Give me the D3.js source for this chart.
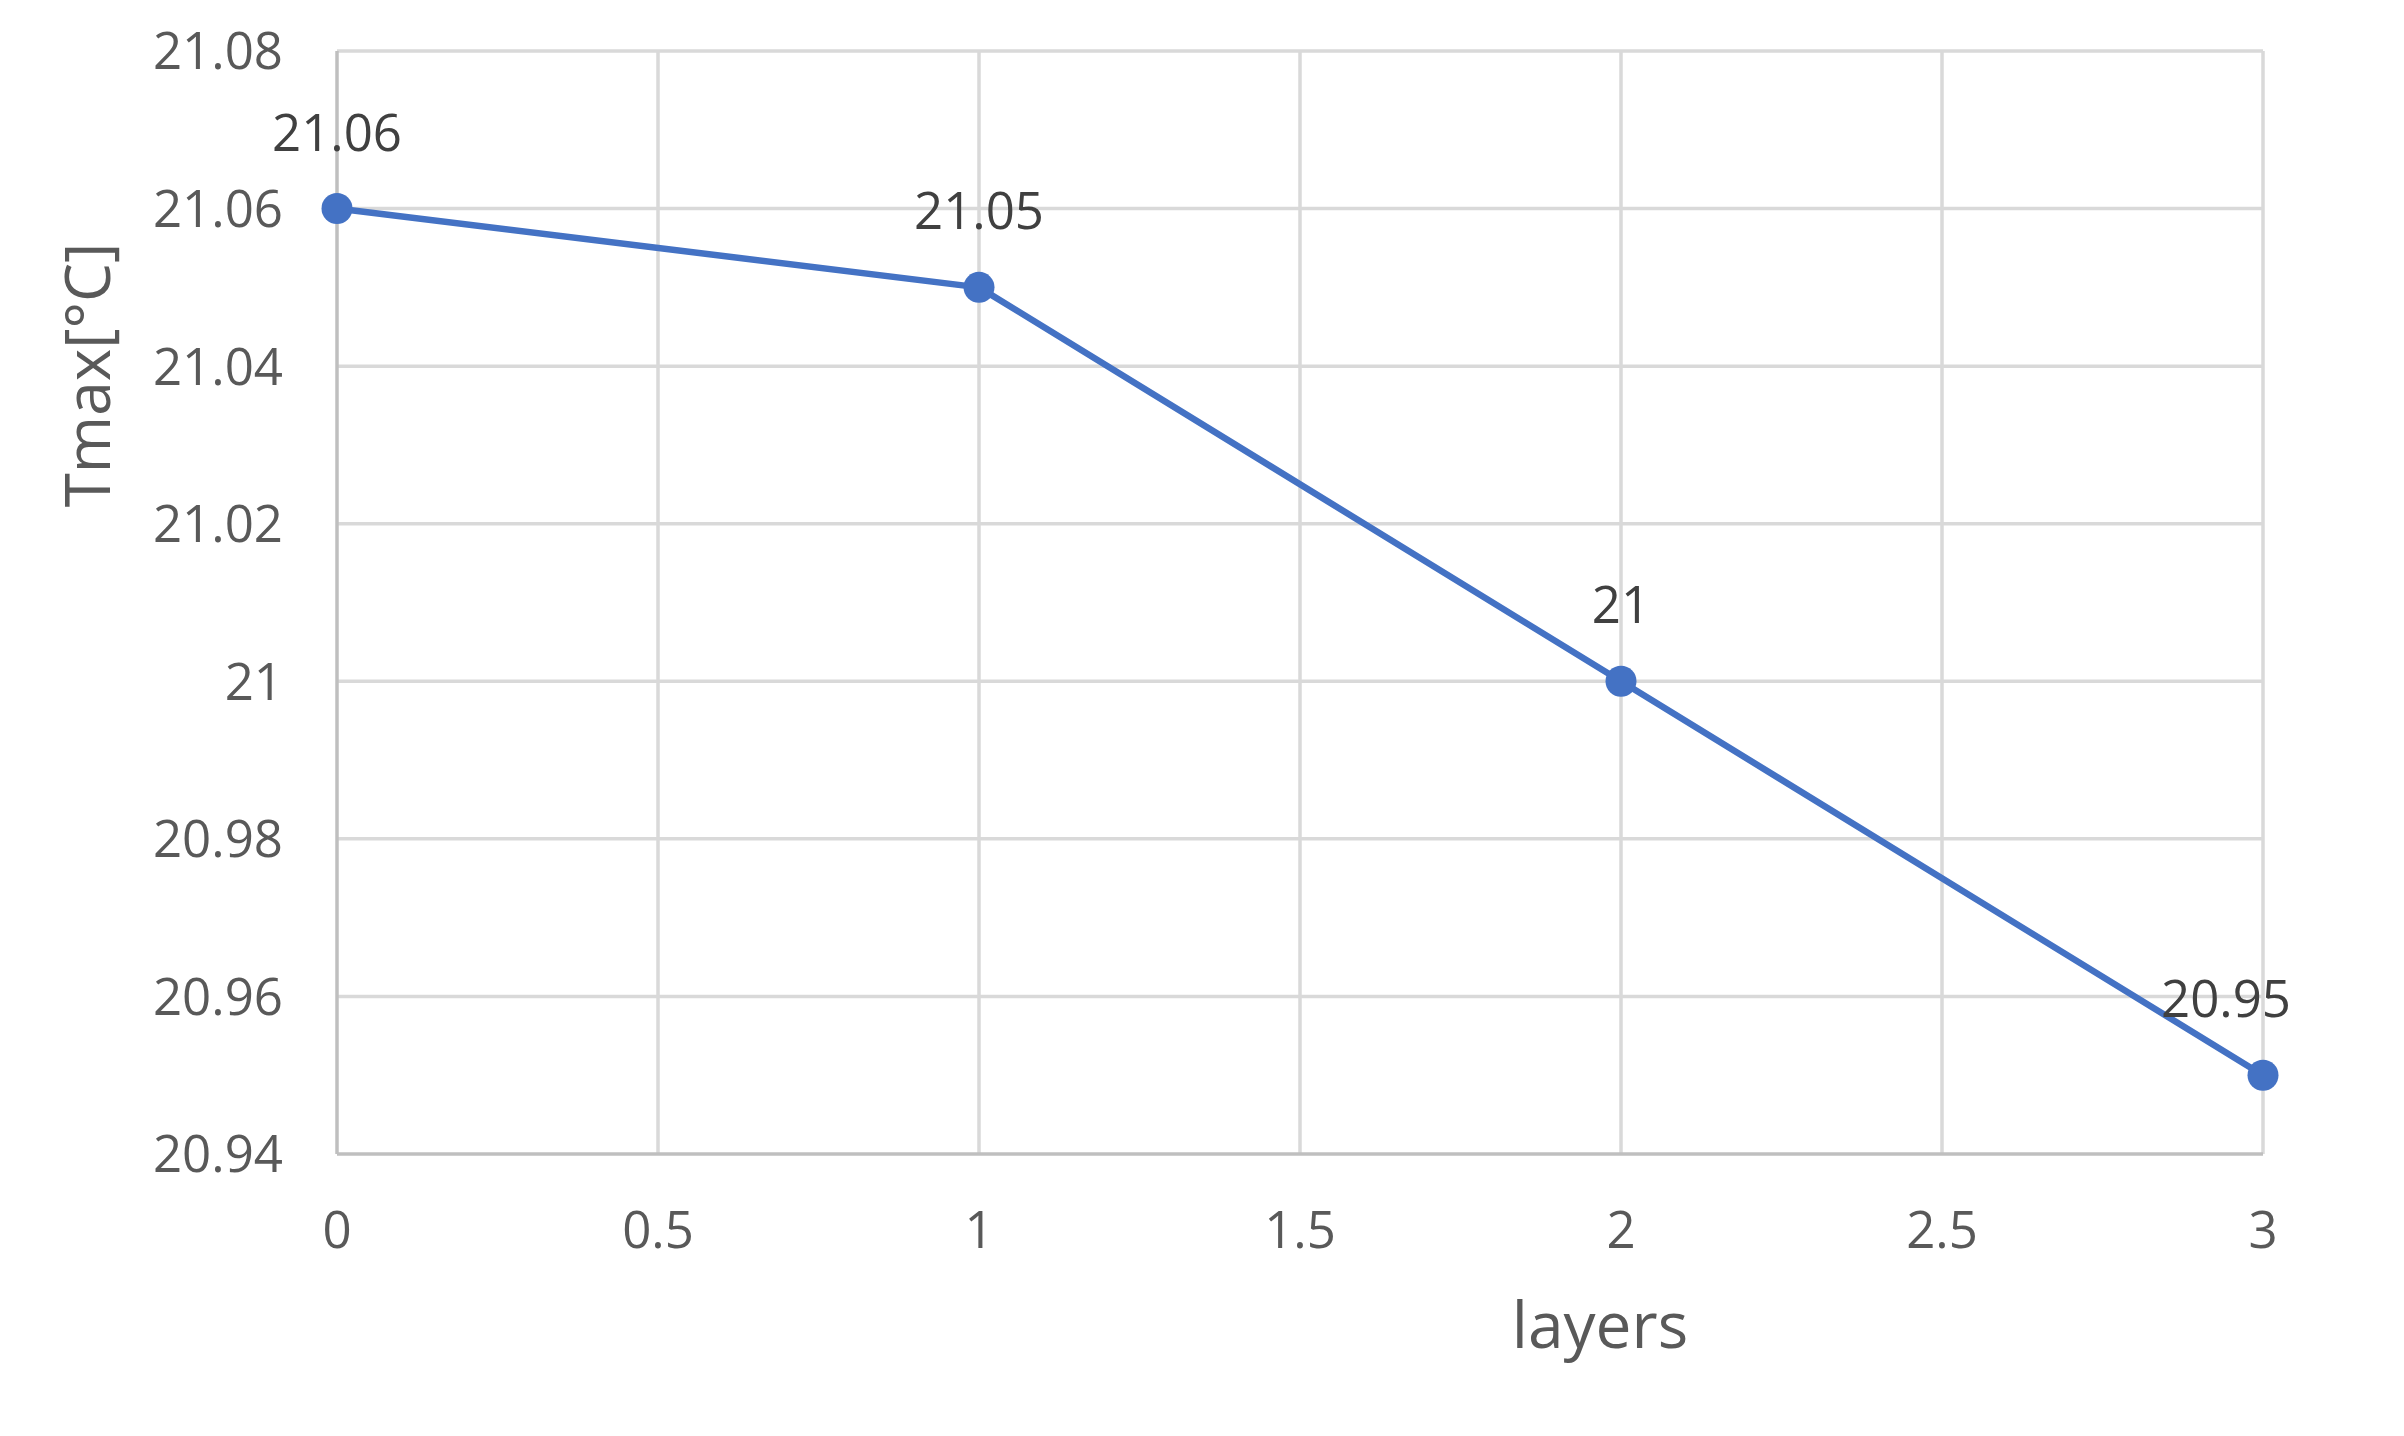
<!DOCTYPE html>
<html>
<head>
<meta charset="utf-8">
<script src="https://cdn.jsdelivr.net/npm/d3@7"></script>
<style>
  html, body { margin: 0; padding: 0; background: #ffffff; }
  svg { display: block; }
  text { font-family: "Open Sans", "Noto Sans", sans-serif; fill: #595959; }
</style>
</head>
<body>
<script>
// Data
const layers = [0, 1, 2, 3];
const tmax = [21.06, 21.05, 21.00, 20.95];
const dataLabels = ["21.06", "21.05", "21", "20.95"];
const xTicks = [0, 0.5, 1, 1.5, 2, 2.5, 3];
const yTicks = [20.94, 20.96, 20.98, 21.00, 21.02, 21.04, 21.06, 21.08];
const xTitle = "layers";
const yTitle = "Tmax[°C]";

const W = 2404, H = 1436;
const svg = d3.select("body").append("svg").attr("width", W).attr("height", H);

const x = d3.scaleLinear().domain([0, 3]).range([337, 2263]);
const y = d3.scaleLinear().domain([20.94, 21.08]).range([1154, 51]);

// vertical gridlines
svg.append("g").selectAll("line").data(xTicks.slice(1)).join("line")
  .attr("x1", d => x(d)).attr("x2", d => x(d))
  .attr("y1", y(21.08)).attr("y2", y(20.94))
  .attr("stroke", "#d9d9d9").attr("stroke-width", 3.5);

// horizontal gridlines
svg.append("g").selectAll("line").data(yTicks.slice(1)).join("line")
  .attr("x1", x(0)).attr("x2", x(3))
  .attr("y1", d => y(d)).attr("y2", d => y(d))
  .attr("stroke", "#d9d9d9").attr("stroke-width", 3.5);

// axes lines
svg.append("line").attr("x1", x(0)).attr("x2", x(0)).attr("y1", y(21.08)).attr("y2", y(20.94))
  .attr("stroke", "#bfbfbf").attr("stroke-width", 3.5);
svg.append("line").attr("x1", x(0)).attr("x2", x(3)).attr("y1", y(20.94)).attr("y2", y(20.94))
  .attr("stroke", "#bfbfbf").attr("stroke-width", 3.5);

// y tick labels
const fmtY = d => { const s = d3.format(".2f")(d); return s === "21.00" ? "21" : s; };
svg.append("g").selectAll("text").data(yTicks).join("text")
  .attr("x", 283).attr("y", d => y(d))
  .attr("dy", "0.36em")
  .attr("text-anchor", "end")
  .attr("font-size", 51)
  .text(fmtY);

// x tick labels
svg.append("g").selectAll("text").data(xTicks).join("text")
  .attr("x", d => x(d)).attr("y", 1248)
  .attr("text-anchor", "middle")
  .attr("font-size", 51)
  .text(d => String(d));

// line
const line = d3.line().x((d, i) => x(layers[i])).y(d => y(d));
svg.append("path").datum(tmax)
  .attr("d", line)
  .attr("fill", "none")
  .attr("stroke", "#4472c4")
  .attr("stroke-width", 6.5)
  .attr("stroke-linejoin", "round");

// markers
svg.append("g").selectAll("circle").data(tmax).join("circle")
  .attr("cx", (d, i) => x(layers[i])).attr("cy", d => y(d))
  .attr("r", 15.5)
  .attr("fill", "#4472c4");

// data labels
const labelShift = [0, 0, 0, -37];
svg.append("g").selectAll("text").data(tmax).join("text")
  .attr("x", (d, i) => x(layers[i]) + labelShift[i])
  .attr("y", d => y(d) - 58)
  .attr("text-anchor", "middle")
  .attr("font-size", 51)
  .style("fill", "#404040")
  .text((d, i) => dataLabels[i]);

// axis titles
svg.append("text")
  .attr("x", 1600).attr("y", 1348)
  .attr("text-anchor", "middle")
  .attr("font-size", 64)
  .text(xTitle);

svg.append("text")
  .attr("transform", "translate(110,375) rotate(-90)")
  .attr("text-anchor", "middle")
  .attr("font-size", 62)
  .text(yTitle);
</script>
</body>
</html>
